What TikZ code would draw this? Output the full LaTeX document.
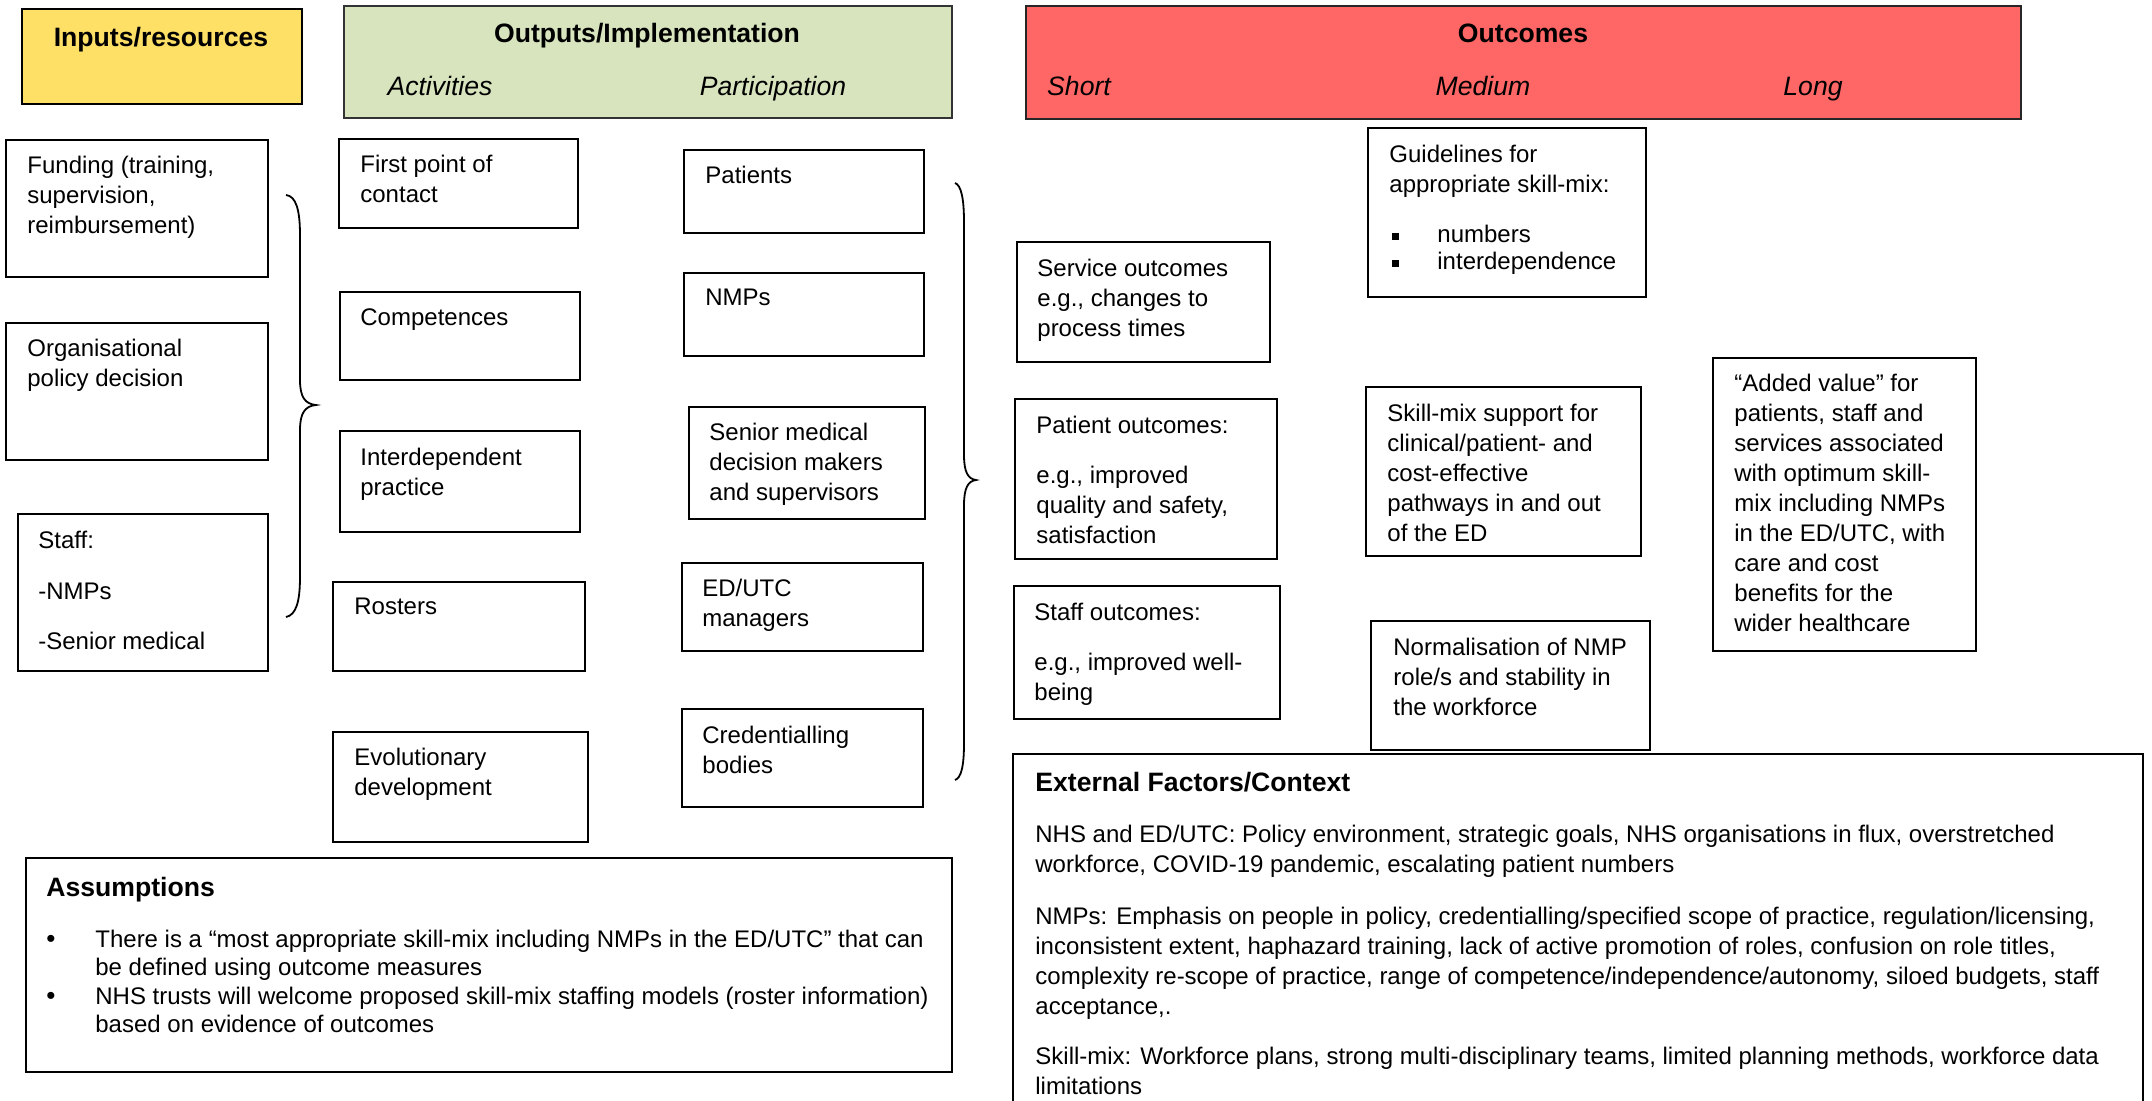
\documentclass[tikz,border=0pt]{standalone}
\usepackage{fontspec}
\setmainfont{Liberation Sans}
\definecolor{inyellow}{HTML}{FFE066}
\definecolor{outgreen}{HTML}{D7E4BD}
\definecolor{outred}{HTML}{FF6666}
\newcommand\lmbox[6][]{%
  \pgfmathsetmacro\bw{(#5-#3)*0.5}%
  \pgfmathsetmacro\bh{(#6-#4)*0.5}%
  \node[bx, minimum width=\bw pt, minimum height=\bh pt, #1] (#2) at (#3,#4) {};}
\newcommand\sqbul{\makebox[24pt][l]{\hspace{1.5pt}\rule[1.5pt]{3.5pt}{3.5pt}}}
\begin{document}
\begin{tikzpicture}[x=0.5pt, y=-0.5pt,
  bx/.style={draw=black, line width=1pt, anchor=north west, inner sep=0pt, outer sep=0pt},
  tx/.style={anchor=north west, inner sep=0pt, align=left, font=\fontsize{12}{15}\selectfont},
  hd/.style={anchor=base, inner sep=0pt, font=\fontsize{13.3}{16}\selectfont\bfseries},
  subhd/.style={anchor=base, inner sep=0pt, font=\fontsize{13.3}{16}\selectfont\itshape},
  bul/.style={anchor=base west, inner sep=0pt, font=\fontsize{13}{14}\selectfont},
  brace/.style={draw=black, line width=0.9pt}]
\useasboundingbox (0,0) rectangle (2152,1100);
\clip (0,0) rectangle (2152,1100);

% headers
\lmbox[fill=inyellow]{inh}{22}{9}{302}{104}
\node[hd] (inh-t) at (161,46) {Inputs/resources};
\lmbox[fill=outgreen, draw=black!80]{outh}{344}{6}{952}{118}
\node[hd] (outh-t) at (647,42) {Outputs/Implementation};
\node[subhd] (act) at (440,95) {Activities};
\node[subhd] (part) at (773,95) {Participation};
\lmbox[fill=outred, draw=black!85]{ocp}{1026}{6}{2021}{119}
\node[hd] (ocp-t) at (1523,42) {Outcomes};
\node[subhd] (short) at (1079,95) {Short};
\node[subhd] (medium) at (1483,95) {Medium};
\node[subhd] (long) at (1813,95) {Long};

% inputs
\lmbox{funding}{6}{140}{268}{277}
\node[tx] (funding-t) at ([shift={(21,16)}]funding.north west) {Funding (training,\\ supervision,\\ reimbursement)};
\lmbox{org}{6}{323}{268}{460}
\node[tx] (org-t) at ([shift={(21,16)}]org.north west) {Organisational\\ policy decision};
\lmbox{staff}{18}{514}{268}{671}
\node[tx] (staff-t) at ([shift={(20,17)}]staff.north west) {Staff:\\[10.5pt] -NMPs\\[10pt] -Senior medical};

% activities
\lmbox{first}{339}{139}{578}{228}
\node[tx] (first-t) at ([shift={(21,16)}]first.north west) {First point of\\ contact};
\lmbox{comp}{340}{292}{580}{380}
\node[tx] (comp-t) at ([shift={(20,16)}]comp.north west) {Competences};
\lmbox{interdep}{340}{431}{580}{532}
\node[tx] (interdep-t) at ([shift={(20,17)}]interdep.north west) {Interdependent\\ practice};
\lmbox{rosters}{333}{582}{585}{671}
\node[tx] (rosters-t) at ([shift={(21,16)}]rosters.north west) {Rosters};
\lmbox{evol}{333}{732}{588}{842}
\node[tx] (evol-t) at ([shift={(21,16)}]evol.north west) {Evolutionary\\ development};

% participation
\lmbox{patients}{684}{150}{924}{233}
\node[tx] (patients-t) at ([shift={(21,16)}]patients.north west) {Patients};
\lmbox{nmps}{684}{273}{924}{356}
\node[tx] (nmps-t) at ([shift={(21,16)}]nmps.north west) {NMPs};
\lmbox{senior}{689}{407}{925}{519}
\node[tx] (senior-t) at ([shift={(20,16)}]senior.north west) {Senior medical\\ decision makers\\ and supervisors};
\lmbox{edutc}{682}{563}{923}{651}
\node[tx] (edutc-t) at ([shift={(20,16)}]edutc.north west) {ED/UTC\\ managers};
\lmbox{cred}{682}{709}{923}{807}
\node[tx] (cred-t) at ([shift={(20,17)}]cred.north west) {Credentialling\\ bodies};

% braces
\coordinate (lbt) at (286,195);
\coordinate (lbm) at (316,405);
\coordinate (lbb) at (286,617);
\draw[brace] (lbt) .. controls (296,196) and (300,210) .. (300,235) -- (300,380)
  .. controls (300,397) and (305,404) .. (lbm)
  .. controls (305,406) and (300,413) .. (300,430) -- (300,577)
  .. controls (300,602) and (296,615) .. (lbb);
\coordinate (rbt) at (955,183);
\coordinate (rbm) at (976,480);
\coordinate (rbb) at (955,780);
\draw[brace] (rbt) .. controls (961,185) and (964,198) .. (964,222) -- (964,455)
  .. controls (964,472) and (968,479) .. (rbm)
  .. controls (968,481) and (964,488) .. (964,505) -- (964,743)
  .. controls (964,767) and (961,778) .. (rbb);

% outcomes
\lmbox{service}{1017}{242}{1270}{362}
\node[tx] (service-t) at ([shift={(20,17)}]service.north west) {Service outcomes\\ e.g., changes to\\ process times};
\lmbox{patout}{1015}{399}{1277}{559}
\node[tx] (patout-t) at ([shift={(21,17)}]patout.north west) {Patient outcomes:\\[10pt] e.g., improved\\ quality and safety,\\ satisfaction};
\lmbox{staffout}{1014}{586}{1280}{719}
\node[tx] (staffout-t) at ([shift={(20,17)}]staffout.north west) {Staff outcomes:\\[10pt] e.g., improved well-\\ being};
\lmbox{guide}{1368}{128}{1646}{297}
\node[tx] (guide-t) at ([shift={(21,17)}]guide.north west) {Guidelines for\\ appropriate skill-mix:\\[10pt] \sqbul numbers\\[-1.5pt] \sqbul interdependence};
\lmbox{skill}{1366}{387}{1641}{556}
\node[tx] (skill-t) at ([shift={(21,17)}]skill.north west) {Skill-mix support for\\ clinical/patient- and\\ cost-effective\\ pathways in and out\\ of the ED};
\lmbox{norm}{1371}{621}{1650}{750}
\node[tx] (norm-t) at ([shift={(22,17)}]norm.north west) {Normalisation of NMP\\ role/s and stability in\\ the workforce};
\lmbox{added}{1713}{358}{1976}{651}
\node[tx] (added-t) at ([shift={(21,16)}]added.north west) {“Added value” for\\ patients, staff and\\ services associated\\ with optimum skill-\\ mix including NMPs\\ in the ED/UTC, with\\ care and cost\\ benefits for the\\ wider healthcare};

% assumptions
\lmbox{assump}{26}{858}{952}{1072}
\node[hd, anchor=base west] (assump-t) at (46,896) {Assumptions};
\node[bul] (ab1) at (46,947) {\textbullet};
\node[tx, font=\fontsize{12}{14}\selectfont] (at1) at (95,930) {There is a “most appropriate skill-mix including NMPs in the ED/UTC” that can\\ be defined using outcome measures};
\node[bul] (ab2) at (46,1004) {\textbullet};
\node[tx, font=\fontsize{12}{14}\selectfont] (at2) at (95,987) {NHS trusts will welcome proposed skill-mix staffing models (roster information)\\ based on evidence of outcomes};

% external factors
\lmbox{ext}{1013}{754}{2143}{1130}
\node[hd, anchor=base west] (ext-t) at (1035,791) {External Factors/Context};
\node[tx] (ext-body) at (1035,825) {NHS and ED/UTC: Policy environment, strategic goals, NHS organisations in flux, overstretched\\ workforce, COVID-19 pandemic, escalating patient numbers\\[11pt]
NMPs: Emphasis on people in policy, credentialling/specified scope of practice, regulation/licensing,\\ inconsistent extent, haphazard training, lack of active promotion of roles, confusion on role titles,\\ complexity re-scope of practice, range of competence/independence/autonomy, siloed budgets, staff\\ acceptance,.\\[10pt]
Skill-mix: Workforce plans, strong multi-disciplinary teams, limited planning methods, workforce data\\ limitations};
\end{tikzpicture}
\end{document}
